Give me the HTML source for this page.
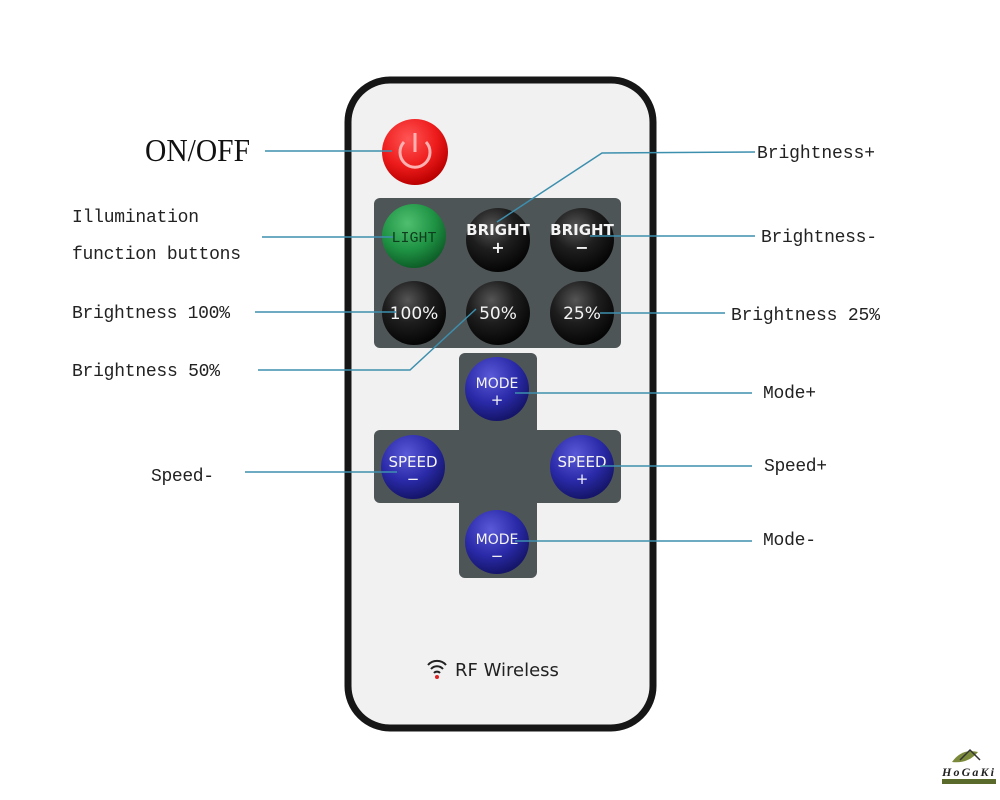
<!DOCTYPE html>
<html><head><meta charset="utf-8"><style>
html,body{margin:0;padding:0;background:#fff;width:1000px;height:800px;overflow:hidden}
svg{display:block}
.lb{font-family:"Liberation Mono",monospace;font-size:18px;fill:#222}
.bt{font-family:"DejaVu Sans","Liberation Sans",sans-serif;fill:#f4f4f4;text-anchor:middle}
</style></head><body>
<svg width="1000" height="800" viewBox="0 0 1000 800">
<defs>
<radialGradient id="gb" cx="40%" cy="30%" r="70%"><stop offset="0" stop-color="#555"/><stop offset="0.5" stop-color="#1e1e1e"/><stop offset="1" stop-color="#050505"/></radialGradient>
<radialGradient id="gbl" cx="40%" cy="30%" r="70%"><stop offset="0" stop-color="#5a5ad8"/><stop offset="0.6" stop-color="#2a2aa8"/><stop offset="1" stop-color="#15156a"/></radialGradient>
<radialGradient id="gg" cx="40%" cy="30%" r="70%"><stop offset="0" stop-color="#4fbf6f"/><stop offset="0.6" stop-color="#1f9344"/><stop offset="1" stop-color="#0e5f28"/></radialGradient>
<radialGradient id="gr" cx="40%" cy="30%" r="70%"><stop offset="0" stop-color="#ff5555"/><stop offset="0.6" stop-color="#ee1c1c"/><stop offset="1" stop-color="#b00"/></radialGradient>
</defs>
<rect x="348" y="80" width="305" height="648" rx="42" fill="#f1f1f1" stroke="#161616" stroke-width="7"/>
<rect x="374" y="198" width="247" height="150" rx="6" fill="#4e5557"/>
<rect x="459" y="353" width="78" height="225" rx="6" fill="#4e5557"/>
<rect x="374" y="430" width="247" height="73" rx="6" fill="#4e5557"/>
<circle cx="415" cy="152" r="33" fill="url(#gr)"/>
<path d="M404 142 A15 15 0 1 0 426 142" fill="none" stroke="#ffb0b0" stroke-width="3"/>
<line x1="415" y1="133" x2="415" y2="152" stroke="#ffb0b0" stroke-width="3"/>
<circle cx="414" cy="236" r="32" fill="url(#gg)"/>
<text x="414" y="242" class="bt" font-size="15" style="fill:#0d3d1c;font-family:'Liberation Mono',monospace">LIGHT</text>
<circle cx="498" cy="240" r="32" fill="url(#gb)"/>
<text x="498" y="235" class="bt" font-size="15" font-weight="bold">BRIGHT</text><text x="498" y="253" class="bt" font-size="16" font-weight="bold">+</text>
<circle cx="582" cy="240" r="32" fill="url(#gb)"/>
<text x="582" y="235" class="bt" font-size="15" font-weight="bold">BRIGHT</text><text x="582" y="253" class="bt" font-size="16" font-weight="bold">−</text>
<circle cx="414" cy="313" r="32" fill="url(#gb)"/>
<text x="414" y="319" class="bt" font-size="17">100%</text>
<circle cx="498" cy="313" r="32" fill="url(#gb)"/>
<text x="498" y="319" class="bt" font-size="17">50%</text>
<circle cx="582" cy="313" r="32" fill="url(#gb)"/>
<text x="582" y="319" class="bt" font-size="17">25%</text>
<circle cx="497" cy="389" r="32" fill="url(#gbl)"/>
<text x="497" y="388" class="bt" font-size="14">MODE</text><text x="497" y="405" class="bt" font-size="15">+</text>
<circle cx="413" cy="467" r="32" fill="url(#gbl)"/>
<text x="413" y="467" class="bt" font-size="15">SPEED</text><text x="413" y="484" class="bt" font-size="15">−</text>
<circle cx="582" cy="467" r="32" fill="url(#gbl)"/>
<text x="582" y="467" class="bt" font-size="15">SPEED</text><text x="582" y="484" class="bt" font-size="15">+</text>
<circle cx="497" cy="542" r="32" fill="url(#gbl)"/>
<text x="497" y="544" class="bt" font-size="14">MODE</text><text x="497" y="561" class="bt" font-size="15">−</text>
<path d="M428 665 A12 12 0 0 1 446 665" fill="none" stroke="#222" stroke-width="2"/>
<path d="M431 669 A8 8 0 0 1 443 669" fill="none" stroke="#222" stroke-width="2"/>
<path d="M434 673 A4 4 0 0 1 440 673" fill="none" stroke="#222" stroke-width="2"/>
<circle cx="437" cy="677" r="2" fill="#d22"/>
<text x="455" y="676" font-family="'DejaVu Sans','Liberation Sans',sans-serif" font-size="18" fill="#222">RF Wireless</text>
<g stroke="#3d8fae" stroke-width="1.5" fill="none">
<line x1="265" y1="151" x2="392" y2="151"/>
<line x1="262" y1="237" x2="393" y2="237"/>
<line x1="255" y1="312" x2="396" y2="312"/>
<polyline points="258,370 410,370 476,309"/>
<polyline points="755,152 602,153 497,222"/>
<line x1="755" y1="236" x2="590" y2="236"/>
<line x1="725" y1="313" x2="600" y2="313"/>
<line x1="752" y1="393" x2="515" y2="393"/>
<line x1="752" y1="466" x2="600" y2="466"/>
<line x1="752" y1="541" x2="515" y2="541"/>
<line x1="245" y1="472" x2="397" y2="472"/>
</g>
<text x="145" y="161" font-family="'Liberation Serif',serif" font-size="32" fill="#111" textLength="105" lengthAdjust="spacingAndGlyphs">ON/OFF</text>
<text x="72" y="222" class="lb" textLength="127">Illumination</text>
<text x="72" y="259" class="lb" textLength="169">function buttons</text>
<text x="72" y="318" class="lb" textLength="158">Brightness 100%</text>
<text x="72" y="376" class="lb" textLength="148">Brightness 50%</text>
<text x="151" y="481" class="lb" textLength="63">Speed-</text>
<text x="757" y="158" class="lb" textLength="118">Brightness+</text>
<text x="761" y="242" class="lb" textLength="116">Brightness-</text>
<text x="731" y="320" class="lb" textLength="149">Brightness 25%</text>
<text x="763" y="398" class="lb" textLength="53">Mode+</text>
<text x="764" y="471" class="lb" textLength="63">Speed+</text>
<text x="763" y="545" class="lb" textLength="53">Mode-</text>
<path d="M952 762 Q962 748 978 752 Q968 764 952 762Z" fill="#7a8a3a"/>
<path d="M960 760 L970 750 L980 760" fill="none" stroke="#333" stroke-width="1.5"/>
<text x="942" y="776" font-family="'Liberation Serif',serif" font-style="italic" font-weight="bold" font-size="12" fill="#222" textLength="52">HoGaKi</text>
<rect x="942" y="779" width="54" height="5" fill="#5a6a2a"/>
</svg>
</body></html>
